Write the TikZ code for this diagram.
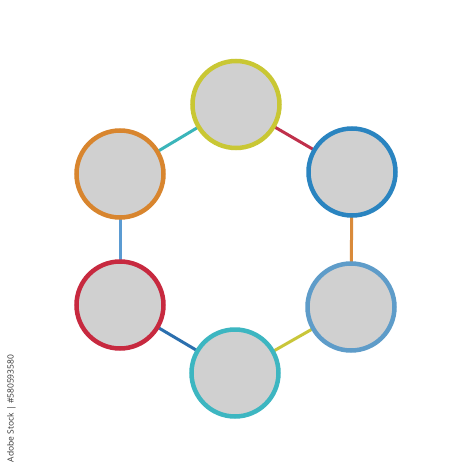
\documentclass[tikz,border=0pt]{standalone}
\usepackage{fontspec}
\setmainfont{Open Sans}
\usetikzlibrary{backgrounds}
\definecolor{cfill}{HTML}{D0D0D0}
\definecolor{cyel}{HTML}{C9C734}
\definecolor{cblue}{HTML}{2A84C0}
\definecolor{csteel}{HTML}{5E9CC9}
\definecolor{ccyan}{HTML}{3DB6C1}
\definecolor{cred}{HTML}{C7293F}
\definecolor{corange}{HTML}{D8852E}
\definecolor{lteal}{HTML}{3BB5BA}
\definecolor{lcrimson}{HTML}{C0304B}
\definecolor{lorange}{HTML}{D98A3A}
\definecolor{lyel}{HTML}{C9C63A}
\definecolor{lblue}{HTML}{2B6FAE}
\definecolor{lsteel}{HTML}{5B9BD2}
\begin{document}
\begin{tikzpicture}[x=1pt,y=-1pt,
  disc/.style={circle,draw=#1,line width=4.5pt,fill=cfill,minimum size=87pt,inner sep=0pt},
  link/.style={draw=#1,line width=3pt}]
\useasboundingbox (0,0) rectangle (474,474);
\node[disc=cyel]    (t)  at (236,104.5) {};
\node[disc=cblue]   (tr) at (352,172) {};
\node[disc=csteel]  (br) at (351,307) {};
\node[disc=ccyan]   (b)  at (235,373) {};
\node[disc=cred]    (bl) at (120,305) {};
\node[disc=corange] (tl) at (120,174) {};
\begin{pgfonlayer}{background}
\fill[white] (0,0) rectangle (474,474);
\draw[link=lteal]    (tl.center) -- (t.center);
\draw[link=lcrimson] (t.center) -- (tr.center);
\draw[link=lorange]  (tr.center) -- (br.center);
\draw[link=lyel]     (br.center) -- (b.center);
\draw[link=lblue]    (b.center) -- (bl.center);
\draw[link=lsteel]   (bl.center) -- (tl.center);
\end{pgfonlayer}
\node[rotate=90,font=\fontsize{8.5}{9}\selectfont,text=black!80] (wm) at (11.5,408.5) {Adobe Stock | \#580593580};
\end{tikzpicture}
\end{document}
